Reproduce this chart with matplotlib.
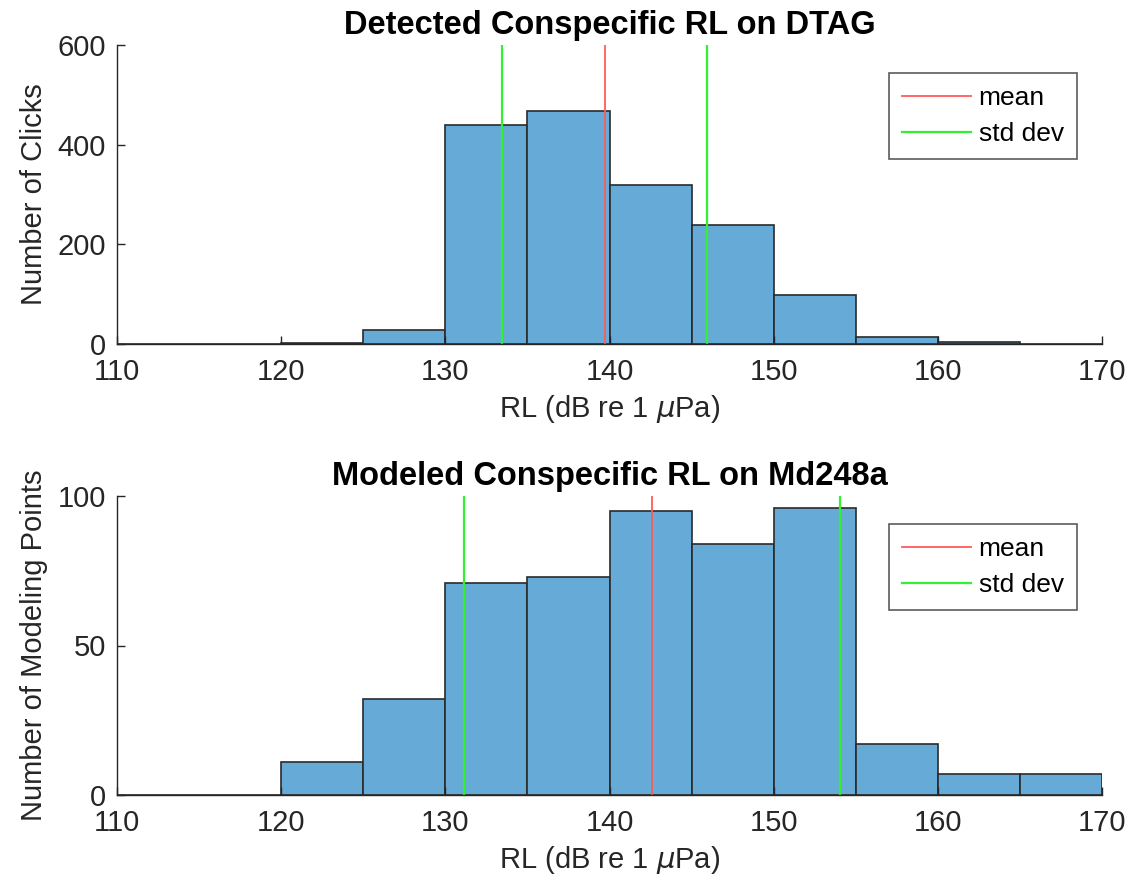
import matplotlib
matplotlib.use("Agg")
import matplotlib.pyplot as plt
import numpy as np

plt.rcParams['font.family'] = ['Liberation Sans', 'DejaVu Sans']

# bin edges shared by both histograms (dB re 1 uPa)
edges = np.arange(110, 175, 5)

# detected clicks on DTAG, counts per 5 dB bin
dtag_counts = [0, 0, 3, 28, 440, 468, 320, 238, 98, 14, 4, 0]
dtag_mean = 139.7
dtag_std = 6.25

# modeled points on Md248a
model_counts = [0, 0, 11, 32, 71, 73, 95, 84, 96, 17, 7, 7]
model_mean = 142.6
model_std = 11.45

bar_face = '#66aad7'
bar_edge = '#2a2a2a'

fig = plt.figure(figsize=(11.32, 8.90), dpi=100)
ax1 = fig.add_axes([117/1132, 1 - 344/890, 985/1132, 299/890])
ax2 = fig.add_axes([117/1132, 1 - 795/890, 985/1132, 299/890])


def draw_panel(ax, counts, mean, std, ymax, yticks, title, ylabel):
    ax.bar(edges[:-1], counts, width=5, align='edge', color=bar_face,
           edgecolor=bar_edge, linewidth=1.2)
    ax.plot([mean, mean], [0, ymax], color='#ff5a5a', lw=1.3, label='mean')
    ax.plot([mean - std, mean - std], [0, ymax], color='#33f033', lw=1.6, label='std dev')
    ax.plot([mean + std, mean + std], [0, ymax], color='#33f033', lw=1.6)
    ax.set_xlim(110, 170)
    ax.set_ylim(0, ymax)
    ax.set_xticks(np.arange(110, 171, 10))
    ax.set_yticks(yticks)
    for side in ['top', 'right']:
        ax.spines[side].set_visible(False)
    for side in ['left', 'bottom']:
        ax.spines[side].set_color('#262626')
        ax.spines[side].set_linewidth(1.0)
    ax.tick_params(direction='in', length=6, width=1.0, colors='#262626',
                   labelsize=21)
    ax.tick_params(axis='x', pad=10)
    ax.tick_params(axis='y', pad=8)
    ax.set_title(title, fontsize=23.5, fontweight='bold', pad=8)
    ax.set_xlabel(r'RL (dB re 1 $\mu$Pa)', fontsize=21, color='#262626', labelpad=5)
    ax.set_ylabel(ylabel, fontsize=21, color='#262626', labelpad=7)
    leg = ax.legend(loc='upper right', bbox_to_anchor=(0.98, 0.925), fontsize=19,
                    frameon=True, fancybox=False, handlelength=2.6,
                    borderpad=0.5, labelspacing=0.45, handletextpad=0.3,
                    borderaxespad=0.2)
    leg.get_frame().set_edgecolor('#333333')
    leg.get_frame().set_linewidth(1.2)


draw_panel(ax1, dtag_counts, dtag_mean, dtag_std, 600, [0, 200, 400, 600],
           'Detected Conspecific RL on DTAG', 'Number of Clicks')
draw_panel(ax2, model_counts, model_mean, model_std, 100, [0, 50, 100],
           'Modeled Conspecific RL on Md248a', 'Number of Modeling Points')

fig.savefig('out.png', dpi=100)
